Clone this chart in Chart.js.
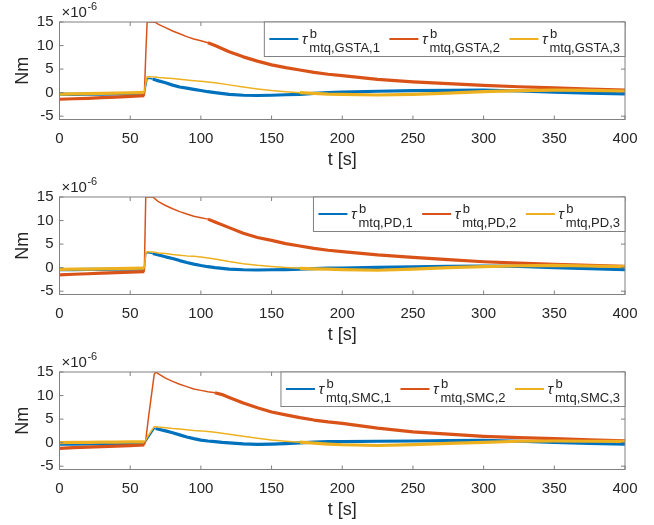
<!DOCTYPE html>
<html>
<head>
<meta charset="utf-8">
<script src="https://cdn.jsdelivr.net/npm/chart.js@4.4.1/dist/chart.umd.min.js"></script>
<style>
  html, body { margin: 0; padding: 0; background: #fff; }
  #wrap { position: relative; width: 654px; height: 525px; }
  canvas { position: absolute; left: 0; }
</style>
</head>
<body>
<div id="wrap">
  <canvas id="c0" width="654" height="175" style="top:0px"></canvas>
  <canvas id="c1" width="654" height="175" style="top:175px"></canvas>
  <canvas id="c2" width="654" height="175" style="top:350px"></canvas>
</div>
<script>
// axis ticks (values in units of 1e-6 Nm)
const xTicks = [0, 50, 100, 150, 200, 250, 300, 350, 400];
const yTicks = [-5, 0, 5, 10, 15];
const yMin = -5.7, yMax = 15;

// GSTA
const tGSTA = [0, 10, 20, 30, 40, 50, 60, 61, 62, 64, 66, 68, 70, 75, 80, 85, 90, 95, 100, 105, 110, 120, 130, 140, 150, 160, 170, 180, 190, 200, 225, 250, 275, 300, 325, 350, 375, 400];
const gsta1 = [-0.3, -0.35, -0.3, -0.3, -0.25, -0.25, -0.2, 1.5, 3.0, 3.0, 2.9, 2.7, 2.5, 2.1, 1.6, 1.2, 0.95, 0.7, 0.45, 0.2, 0.0, -0.35, -0.55, -0.6, -0.55, -0.45, -0.35, -0.15, 0.0, 0.1, 0.3, 0.45, 0.5, 0.55, 0.35, 0.1, -0.1, -0.25];
const gsta2 = [-1.4, -1.3, -1.2, -1.05, -0.95, -0.8, -0.65, 8, 15, 15, 15, 14.9, 14.5, 13.8, 13.1, 12.5, 11.9, 11.4, 11.0, 10.6, 10.0, 8.7, 7.6, 6.7, 5.9, 5.3, 4.8, 4.3, 3.9, 3.6, 2.8, 2.3, 1.9, 1.55, 1.25, 1.0, 0.75, 0.55];
const gsta3 = [-0.3, -0.25, -0.2, -0.15, -0.1, -0.05, 0.05, 2, 3.4, 3.4, 3.35, 3.3, 3.2, 3.1, 3.0, 2.85, 2.7, 2.55, 2.4, 2.25, 2.1, 1.65, 1.2, 0.8, 0.45, 0.2, 0.0, -0.15, -0.3, -0.35, -0.5, -0.35, -0.1, 0.2, 0.45, 0.55, 0.5, 0.35];

// PD
const tPD = [0, 10, 20, 30, 40, 50, 60, 61, 62, 64, 66, 68, 70, 75, 80, 85, 90, 95, 100, 105, 110, 120, 130, 140, 150, 160, 170, 180, 190, 200, 225, 250, 275, 300, 325, 350, 375, 400];
const pd1 = [-0.4, -0.4, -0.35, -0.35, -0.3, -0.3, -0.25, 3.0, 3.2, 3.1, 3.0, 2.85, 2.7, 2.3, 1.95, 1.5, 1.1, 0.75, 0.45, 0.2, 0.0, -0.3, -0.45, -0.5, -0.45, -0.4, -0.3, -0.2, -0.1, -0.1, 0.05, 0.15, 0.3, 0.35, 0.25, 0.0, -0.2, -0.4];
const pd2 = [-1.55, -1.4, -1.3, -1.15, -1.05, -0.95, -0.85, 15, 15, 15, 15, 14.5, 14.0, 13.2, 12.5, 11.9, 11.4, 10.9, 10.6, 10.3, 9.7, 8.5, 7.3, 6.4, 5.8, 5.1, 4.6, 4.1, 3.7, 3.4, 2.7, 2.2, 1.7, 1.25, 0.95, 0.7, 0.5, 0.3];
const pd3 = [-0.35, -0.3, -0.3, -0.25, -0.2, -0.15, -0.1, 3.0, 3.4, 3.35, 3.3, 3.2, 3.1, 3.0, 2.8, 2.65, 2.5, 2.4, 2.25, 2.05, 1.85, 1.3, 0.85, 0.5, 0.25, 0.05, -0.15, -0.25, -0.3, -0.4, -0.55, -0.3, 0.0, 0.2, 0.4, 0.5, 0.35, 0.2];

// SMC
const tSMC = [0, 10, 20, 30, 40, 50, 60, 61, 63, 65, 67, 68, 70, 75, 80, 85, 90, 95, 100, 105, 110, 115, 120, 130, 140, 150, 160, 170, 180, 190, 200, 225, 250, 275, 300, 325, 350, 375, 400];
const smc1 = [-0.3, -0.3, -0.25, -0.25, -0.2, -0.2, -0.15, 0.3, 1.2, 2.1, 3.0, 3.0, 2.85, 2.5, 2.1, 1.65, 1.2, 0.85, 0.55, 0.35, 0.2, 0.05, -0.05, -0.25, -0.35, -0.3, -0.2, -0.05, 0.1, 0.2, 0.2, 0.3, 0.35, 0.45, 0.5, 0.3, 0.05, -0.15, -0.3];
const smc2 = [-1.2, -1.05, -0.95, -0.85, -0.75, -0.65, -0.5, 0.5, 5.5, 10.0, 14.5, 15.0, 14.6, 13.7, 13.0, 12.4, 11.9, 11.4, 11.1, 10.8, 10.6, 10.2, 9.6, 8.4, 7.4, 6.5, 5.9, 5.3, 4.8, 4.4, 4.1, 3.1, 2.3, 1.8, 1.35, 1.05, 0.85, 0.6, 0.4];
const smc3 = [0.0, 0.05, 0.05, 0.1, 0.1, 0.15, 0.15, 0.6, 1.6, 2.5, 3.4, 3.4, 3.3, 3.15, 3.0, 2.9, 2.75, 2.6, 2.5, 2.35, 2.2, 2.0, 1.8, 1.35, 0.95, 0.55, 0.3, 0.1, -0.1, -0.3, -0.45, -0.6, -0.4, -0.15, 0.05, 0.3, 0.35, 0.3, 0.25];

const COLORS = ['#0072BD', '#D95319', '#EDB120'];
const TEXT = '#262626';
const FRAME = '#808080';
const FONT = '"Liberation Sans", Arial, sans-serif';

// the part of each curve that is drawn as a thin clean line (rest is a noisy band)
const thinRange = {
  GSTA: [[60, 66], [60, 105], [60, 175]],
  PD: [[60, 66], [60, 105], [60, 175]],
  SMC: [[60, 68], [60, 112], [60, 172]]
};

const frame = {
  id: 'frame',
  afterDatasetsDraw(chart, args, opts) {
    const { ctx, chartArea: a, scales: { x, y } } = chart;
    ctx.save();
    ctx.strokeStyle = FRAME;
    ctx.lineWidth = 1;
    ctx.strokeRect(a.left, a.top, a.width, a.height);
    ctx.beginPath();
    xTicks.forEach(v => {
      const px = x.getPixelForValue(v);
      ctx.moveTo(px, a.bottom); ctx.lineTo(px, a.bottom - 4);
      ctx.moveTo(px, a.top); ctx.lineTo(px, a.top + 4);
    });
    yTicks.forEach(v => {
      const py = y.getPixelForValue(v);
      ctx.moveTo(a.left, py); ctx.lineTo(a.left + 4, py);
      ctx.moveTo(a.right, py); ctx.lineTo(a.right - 4, py);
    });
    ctx.stroke();

    // exponent label
    ctx.fillStyle = TEXT;
    ctx.textBaseline = 'alphabetic';
    ctx.textAlign = 'left';
    ctx.font = '15px ' + FONT;
    ctx.fillText('\u00d710', a.left + 2, a.top - 5);
    const w = ctx.measureText('\u00d710').width;
    ctx.font = '11px ' + FONT;
    ctx.fillText('-6', a.left + 2 + w + 0.5, a.top - 12);

    // legend
    const subs = opts.names.map(n => 'mtq,' + n);
    ctx.font = '13px ' + FONT;
    const subW = subs.map(s => ctx.measureText(s).width);
    let total = 5;
    subW.forEach((sw, i) => { total += 40 + sw + (i < subW.length - 1 ? 9.5 : 5); });
    const bx = a.right - total, by = a.top, bh = 34.5;
    ctx.fillStyle = '#fff';
    ctx.fillRect(bx, by, total, bh);
    ctx.strokeStyle = FRAME;
    ctx.strokeRect(bx, by, total, bh);
    let L = bx + 5;
    subs.forEach((s, i) => {
      ctx.strokeStyle = COLORS[i];
      ctx.lineWidth = 2;
      ctx.beginPath();
      ctx.moveTo(L, by + 17); ctx.lineTo(L + 29, by + 17);
      ctx.stroke();
      ctx.fillStyle = TEXT;
      ctx.font = 'italic 15px ' + FONT;
      ctx.fillText('\u03c4', L + 32.5, by + 22);
      ctx.font = '13px ' + FONT;
      ctx.fillText('b', L + 40.5, by + 15.5);
      ctx.fillText(s, L + 40, by + 29.5);
      L += 40 + subW[i] + 9.5;
    });
    ctx.restore();
  }
};

function makeChart(id, name, t, series) {
  const ranges = thinRange[name];
  new Chart(document.getElementById(id), {
    type: 'line',
    data: {
      datasets: series.map((s, i) => ({
        label: name + ',' + (i + 1),
        data: t.map((tv, k) => ({ x: tv, y: s[k] })),
        borderColor: COLORS[i],
        borderWidth: 3.2,
        order: 2 - i,
        clip: 0,
        segment: {
          borderWidth: ctx => (ctx.p0.parsed.x >= ranges[i][0] && ctx.p1.parsed.x <= ranges[i][1]) ? 1.5 : 3.2
        }
      }))
    },
    options: {
      responsive: false,
      animation: false,
      devicePixelRatio: 1,
      layout: { padding: { left: 0, right: 29, top: 22, bottom: 0 } },
      plugins: { legend: { display: false }, tooltip: { enabled: false }, frame: { names: [name + ',1', name + ',2', name + ',3'] } },
      elements: { point: { radius: 0 }, line: { tension: 0, borderJoinStyle: 'round' } },
      scales: {
        x: {
          type: 'linear', min: 0, max: 400,
          afterBuildTicks: s => { s.ticks = xTicks.map(v => ({ value: v })); },
          afterFit: s => { s.height = 55.5; },
          grid: { display: false, drawTicks: false },
          border: { display: false },
          ticks: { color: TEXT, font: { family: FONT, size: 15 }, padding: 10, maxRotation: 0, autoSkip: false },
          title: { display: true, text: 't [s]', color: TEXT, font: { family: FONT, size: 18 }, padding: { top: 0, bottom: 4 } }
        },
        y: {
          type: 'linear', min: yMin, max: yMax,
          afterBuildTicks: s => { s.ticks = yTicks.map(v => ({ value: v })); },
          afterFit: s => { s.width = 59.5; },
          grid: { display: false, drawTicks: false },
          border: { display: false },
          ticks: { color: TEXT, font: { family: FONT, size: 15 }, padding: 6 },
          title: { display: true, text: 'Nm', color: TEXT, font: { family: FONT, size: 18 }, padding: { top: 12, bottom: 0 } }
        }
      }
    },
    plugins: [frame]
  });
}

makeChart('c0', 'GSTA', tGSTA, [gsta1, gsta2, gsta3]);
makeChart('c1', 'PD', tPD, [pd1, pd2, pd3]);
makeChart('c2', 'SMC', tSMC, [smc1, smc2, smc3]);
</script>
</body>
</html>
